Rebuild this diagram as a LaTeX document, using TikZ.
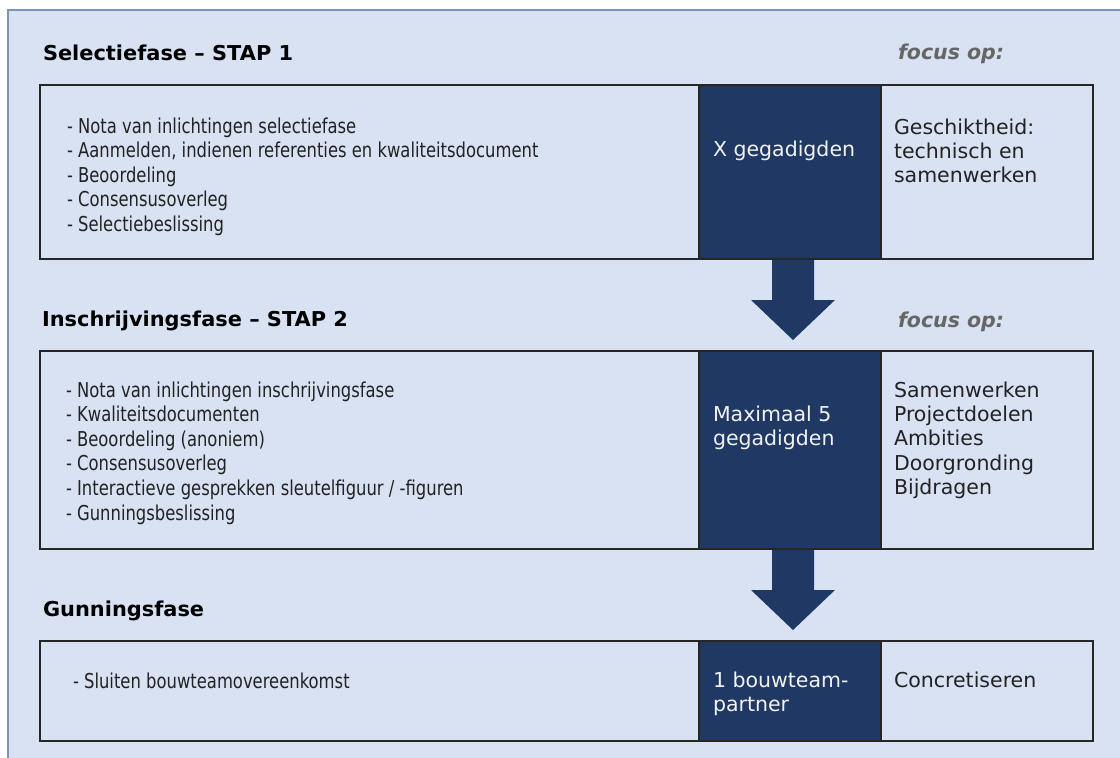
\documentclass[tikz,border=0pt]{standalone}
\usepackage{fontspec}
\setmainfont{DejaVu Sans}
\newfontfamily\listfont[FakeStretch=0.80]{DejaVu Sans}
\newfontfamily\titlefont[FakeStretch=1.02]{DejaVu Sans}
\usetikzlibrary{calc}
\definecolor{panel}{HTML}{D9E2F3}
\definecolor{navy}{HTML}{1F3864}
\definecolor{panelline}{HTML}{7F93B5}
\definecolor{focusgray}{HTML}{666666}
\definecolor{ink}{HTML}{222222}
\definecolor{lightink}{HTML}{F2F2F2}
\newcommand{\stk}[1]{\begin{tabular}[t]{@{}l@{}}#1\end{tabular}}
\begin{document}
\begin{tikzpicture}[x=1pt,y=-1pt,
  every node/.style={inner sep=0pt, outer sep=0pt},
  box/.style={draw=black!85, line width=1.3pt, fill=panel, anchor=north west, minimum width=1053pt},
  darkcol/.style={draw=black!85, line width=1.3pt, fill=navy, anchor=north west, minimum width=182pt},
  phasetitle/.style={anchor=base west, text=black, font=\titlefont\bfseries\fontsize{20.5}{24.5}\selectfont},
  focuslabel/.style={anchor=base west, text=focusgray, font=\bfseries\itshape\fontsize{20.5}{24.5}\selectfont},
  listtext/.style={anchor=base west, text=ink, font=\listfont\fontsize{20.5}{24.6}\selectfont},
  darktext/.style={anchor=base west, text=lightink, font=\fontsize{20.5}{24.4}\selectfont},
  focustext/.style={anchor=base west, text=ink, font=\fontsize{20.5}{24.4}\selectfont},
  blockarrow/.style={fill=navy}
]
\useasboundingbox (0,0) rectangle (1120,758);
\fill[white] (0,0) rectangle (1120,758);
\draw[panelline, fill=panel, line width=1.2pt] (8,10) rectangle (1135,775);

% phase boxes
\node[box, minimum height=174pt] (b1) at (40,85) {};
\node[darkcol, minimum height=174pt] (d1) at (699,85) {};
\node[box, minimum height=198pt] (b2) at (40,351) {};
\node[darkcol, minimum height=198pt] (d2) at (699,351) {};
\node[box, minimum height=100pt] (b3) at (40,641) {};
\node[darkcol, minimum height=100pt] (d3) at (699,641) {};

% titles
\node[phasetitle] (t1) at (43,60) {Selectiefase – STAP 1};
\node[phasetitle] (t2) at (42,326) {Inschrijvingsfase – STAP 2};
\node[phasetitle] (t3) at (43,616) {Gunningsfase};
\node[focuslabel] (f1) at (898,59) {focus op:};
\node[focuslabel] (f2) at (898,327) {focus op:};

% lists
\node[listtext] (l1) at (67,133) {\stk{- Nota van inlichtingen selectiefase\\
- Aanmelden, indienen referenties en kwaliteitsdocument\\
- Beoordeling\\
- Consensusoverleg\\
- Selectiebeslissing}};
\node[listtext] (l2) at (66,397) {\stk{- Nota van inlichtingen inschrijvingsfase\\
- Kwaliteitsdocumenten\\
- Beoordeling (anoniem)\\
- Consensusoverleg\\
- Interactieve gesprekken sleutelfiguur / -figuren\\
- Gunningsbeslissing}};
\node[listtext] (l3) at (73,688) {\stk{- Sluiten bouwteamovereenkomst}};

% dark column texts
\node[darktext] (x1) at (713,156) {\stk{X gegadigden}};
\node[darktext] (x2) at (713,421) {\stk{Maximaal 5\\gegadigden}};
\node[darktext] (x3) at (713,687) {\stk{1 bouwteam-\\partner}};

% focus texts
\node[focustext] (r1) at (894,134) {\stk{Geschiktheid:\\technisch en\\samenwerken}};
\node[focustext] (r2) at (894,397) {\stk{Samenwerken\\Projectdoelen\\Ambities\\Doorgronding\\Bijdragen}};
\node[focustext] (r3) at (894,687) {\stk{Concretiseren}};

% block arrows
\coordinate (a1) at ($(d1.south)+(3,1)$);
\coordinate (a2) at ($(d2.south)+(3,1)$);
\foreach \a in {a1,a2}{
  \fill[blockarrow] ($(\a)+(-21,0)$) -- ($(\a)+(21,0)$) -- ($(\a)+(21,40)$) -- ($(\a)+(42,40)$)
    -- ($(\a)+(0,80)$) -- ($(\a)+(-42,40)$) -- ($(\a)+(-21,40)$) -- cycle;
}
\end{tikzpicture}
\end{document}
